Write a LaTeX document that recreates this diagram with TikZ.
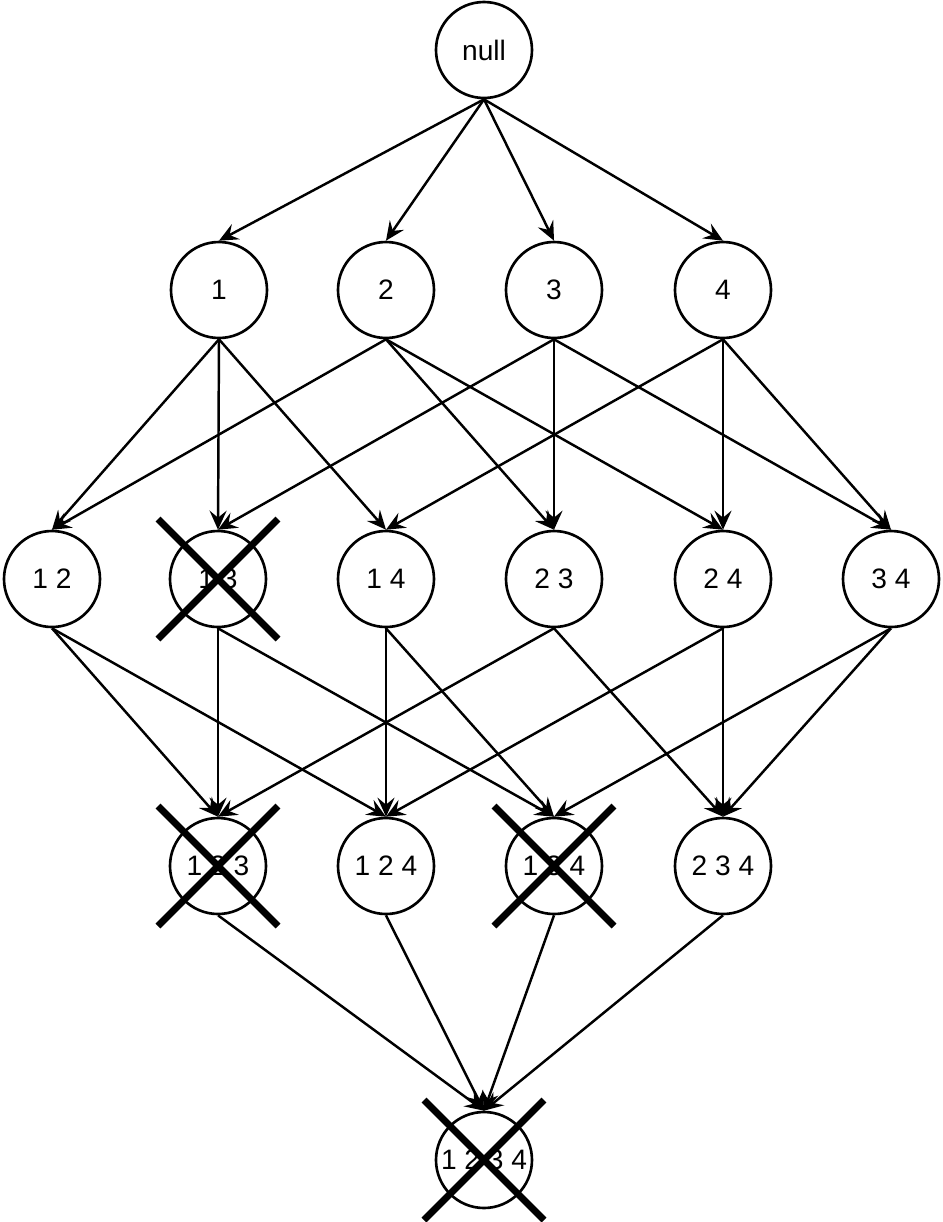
\documentclass[tikz,border=0pt]{standalone}
\usepackage{fontspec}
\setmainfont{Liberation Sans}
\usetikzlibrary{arrows.meta}
\tikzset{
  st/.style={circle,draw=black,fill=white,minimum size=1.92cm,inner sep=0pt,line width=1.5pt,
             font=\fontsize{16}{19}\selectfont},
  ed/.style={-{Stealth[length=3.8mm,width=3.4mm,inset=1.4mm]},line width=1.4pt,draw=black},
  % a pruned itemset is struck out with a heavy cross
  xx/.style={line width=4pt,draw=black},
}

\begin{document}
\begin{tikzpicture}
\useasboundingbox (0,0) rectangle (18.86,-24.44);
% lattice levels, top to bottom
\node[st] (n0) at (9.68,-1.00) {null};
\node[st] (n1) at (4.38,-5.80) {1}; \node[st] (n2) at (7.72,-5.80) {2};
\node[st] (n3) at (11.08,-5.80) {3}; \node[st] (n4) at (14.46,-5.80) {4};
\node[st] (n12) at (1.04,-11.58) {1 2}; \node[st] (n13) at (4.36,-11.58) {1 3};
\node[st] (n14) at (7.72,-11.58) {1 4}; \node[st] (n23) at (11.08,-11.58) {2 3};
\node[st] (n24) at (14.46,-11.58) {2 4}; \node[st] (n34) at (17.82,-11.58) {3 4};
\node[st] (n123) at (4.36,-17.32) {1 2 3}; \node[st] (n124) at (7.72,-17.32) {1 2 4};
\node[st] (n134) at (11.08,-17.32) {1 3 4}; \node[st] (n234) at (14.46,-17.32) {2 3 4};
\node[st] (n1234) at (9.68,-23.20) {1 2 3 4};
% edges, from bottom of a set to top of its superset
\foreach \a/\b in {0/1,0/2,0/3,0/4,
  1/12,1/13,1/14,2/12,2/23,2/24,3/13,3/23,3/34,4/14,4/24,4/34,
  12/123,12/124,13/123,13/134,14/124,14/134,23/123,23/234,24/124,24/234,34/134,34/234,
  123/1234,124/1234,134/1234,234/1234}
  \draw[ed] (n\a.south) -- (n\b.north);
% crosses over the pruned sets
\foreach \c in {13,123,134,1234}
  \draw[xx] ([shift={(-1.2,1.2)}]n\c.center) -- ([shift={(1.2,-1.2)}]n\c.center)
            ([shift={(1.2,1.2)}]n\c.center) -- ([shift={(-1.2,-1.2)}]n\c.center);
\end{tikzpicture}
\end{document}
